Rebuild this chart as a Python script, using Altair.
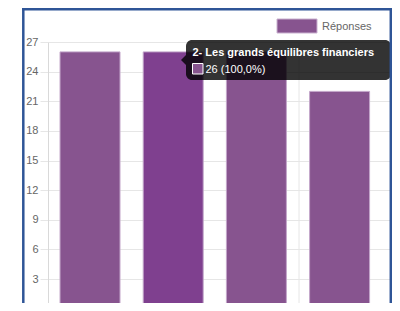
import altair as alt
import pandas as pd

categories = ["1", "2- Les grands équilibres financiers", "3", "4"]
values = [26, 26, 26, 22]
series_name = "Réponses"
y_ticks = [3, 6, 9, 12, 15, 18, 21, 24, 27]
hover_index = 1
tooltip_title = categories[hover_index]
tooltip_body = "26 (100,0%)"

BAR = "#87548F"
BAR_HOVER = "#7F408F"
GRID = "#e6e6e6"
LABEL = "#666666"
BORDER = "#2F5597"
FONT = "Liberation Sans"
FS = 11

df = pd.DataFrame({"cat": categories, "val": values})
one = pd.DataFrame({"a": [0]})

x_scale = alt.Scale(domain=categories, paddingInner=0.279, paddingOuter=0.207, align=0.349)
y_scale = alt.Scale(domain=[0.57, 27], nice=False, zero=False)

bars = alt.Chart(df).mark_bar(stroke="#c3a6ca", strokeWidth=1, clip=True).encode(
    x=alt.X("cat:N", scale=x_scale, axis=None, sort=categories),
    y=alt.Y("val:Q", scale=y_scale,
            axis=alt.Axis(values=y_ticks, title=None, grid=True, gridColor=GRID,
                          tickColor=GRID, tickSize=8, domainColor="#d9d9d9",
                          labelColor=LABEL, labelFont=FONT, labelFontSize=FS,
                          labelPadding=2)),
    y2=alt.datum(0),
    color=alt.condition(alt.datum.cat == tooltip_title, alt.value(BAR_HOVER), alt.value(BAR)),
)

vgrid = alt.Chart(one).mark_rule(color=GRID, strokeWidth=1).encode(
    x=alt.value(251), y=alt.value(0), y2=alt.value(261))

# legend
leg_rect = alt.Chart(one).mark_rect(fill=BAR, stroke="#c9b0cf", strokeWidth=1).encode(
    x=alt.value(229), x2=alt.value(269), y=alt.value(-23), y2=alt.value(-9))
leg_text = alt.Chart(one).mark_text(align="left", baseline="middle", font=FONT,
                                    fontSize=FS, color=LABEL).encode(
    x=alt.value(274), y=alt.value(-15.5), text=alt.value(series_name))

# tooltip
tip_rect = alt.Chart(one).mark_rect(fill="black", fillOpacity=0.8, cornerRadius=6).encode(
    x=alt.value(138), x2=alt.value(343), y=alt.value(-2), y2=alt.value(38))
tip_arrow = alt.Chart(one).mark_point(shape="M 0 -1 L -1 0 L 0 1 Z", filled=True,
                                      fill="black", fillOpacity=0.8, strokeWidth=0,
                                      size=100).encode(
    x=alt.value(138), y=alt.value(18))
tip_title = alt.Chart(one).mark_text(align="left", baseline="middle", font="Arial",
                                     fontSize=11, fontWeight="bold", color="white").encode(
    x=alt.value(144.5), y=alt.value(10.5), text=alt.value(tooltip_title))
tip_swatch = alt.Chart(one).mark_rect(fill=BAR, stroke="white", strokeWidth=1).encode(
    x=alt.value(144.5), x2=alt.value(155), y=alt.value(21.5), y2=alt.value(32))
tip_body = alt.Chart(one).mark_text(align="left", baseline="middle", font=FONT,
                                    fontSize=FS, color="white").encode(
    x=alt.value(157.5), y=alt.value(28), text=alt.value(tooltip_body))

# container border
b_left = alt.Chart(one).mark_rule(color=BORDER, strokeWidth=2.5).encode(
    x=alt.value(-24.7), y=alt.value(-34), y2=alt.value(270))
b_top = alt.Chart(one).mark_rule(color=BORDER, strokeWidth=2.5).encode(
    x=alt.value(-26), x2=alt.value(344), y=alt.value(-32.8))
b_right = alt.Chart(one).mark_rule(color=BORDER, strokeWidth=2.5).encode(
    x=alt.value(342.8), y=alt.value(-34), y2=alt.value(270))

chart = alt.layer(
    vgrid, bars, leg_rect, leg_text, tip_rect, tip_arrow, tip_title, tip_swatch, tip_body,
    b_left, b_top, b_right,
).properties(
    width=344, height=261, autosize="none",
    padding={"left": 40, "top": 34, "right": 0, "bottom": 0},
    background="white",
).configure_view(stroke="transparent")

chart.save("out.html", embed_options={"renderer": "svg", "actions": False})
